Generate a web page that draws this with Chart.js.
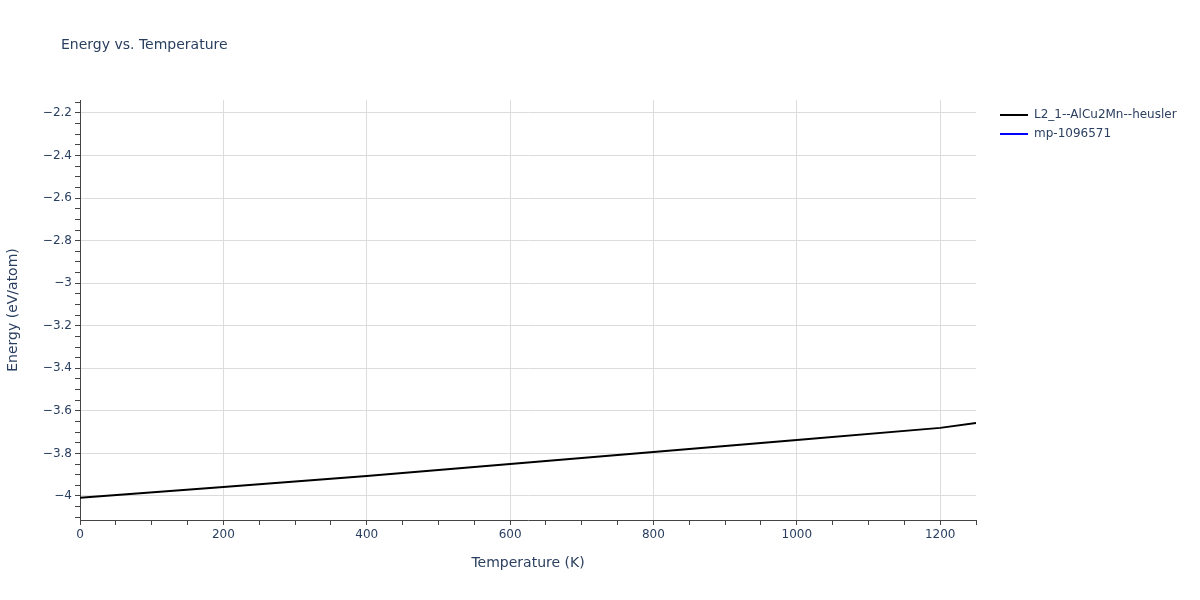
<!DOCTYPE html>
<html>
<head>
<meta charset="utf-8">
<script src="https://cdn.jsdelivr.net/npm/chart.js@4"></script>
<style>
  html, body { margin: 0; padding: 0; background: #fff; }
  #wrap { width: 1200px; height: 600px; position: relative; }
</style>
</head>
<body>
<div id="wrap"><canvas id="c" width="1200" height="600"></canvas></div>
<script>
// temperature (K) and energy (eV/atom)
const temps   = [0, 200, 400, 600, 800, 1000, 1200, 1250];
const eHeusler = [-4.009, -3.958, -3.906, -3.850, -3.793, -3.737, -3.680, -3.657];
const eMp      = []; // second series: not visible in the plotted range

const seriesNames  = ['L2_1--AlCu2Mn--heusler', 'mp-1096571'];
const seriesColors = ['#000000', '#0000ff'];

const TXT = '#2a3f5f';
const FONT = '"DejaVu Sans", Verdana, sans-serif';

const isMult = (v, s) => Math.abs(v / s - Math.round(v / s)) < 1e-6;
const minus = s => s.replace('-', '\u2212');

// title + legend, drawn like plotly puts them
const deco = {
  id: 'deco',
  afterDraw(chart) {
    const ctx = chart.ctx;
    ctx.save();
    ctx.fillStyle = TXT;
    ctx.textBaseline = 'middle';
    ctx.font = '14px ' + FONT;
    ctx.fillText('Energy vs. Temperature', 61, 45);
    ctx.font = '12px ' + FONT;
    seriesNames.forEach((name, i) => {
      const y = 115 + i * 19;
      ctx.strokeStyle = seriesColors[i];
      ctx.lineWidth = 2;
      ctx.beginPath();
      ctx.moveTo(1000, y);
      ctx.lineTo(1028, y);
      ctx.stroke();
      ctx.fillText(name, 1034, y);
    });
    ctx.restore();
  }
};

new Chart(document.getElementById('c'), {
  type: 'line',
  data: {
    datasets: [
      {
        label: seriesNames[0],
        data: temps.map((t, i) => ({ x: t, y: eHeusler[i] })),
        borderColor: seriesColors[0],
        borderWidth: 2,
        pointRadius: 0,
        tension: 0,
      },
      {
        label: seriesNames[1],
        data: eMp,
        borderColor: seriesColors[1],
        borderWidth: 2,
        pointRadius: 0,
      },
    ],
  },
  options: {
    responsive: false,
    animation: false,
    layout: { padding: { left: 0, right: 224, top: 100, bottom: 0 } },
    plugins: {
      legend: { display: false },
      title: { display: false },
      tooltip: { enabled: false },
    },
    scales: {
      x: {
        type: 'linear',
        min: 0,
        max: 1250,
        afterFit: s => { s.height = 80; },
        border: { color: '#444', width: 1 },
        grid: {
          color: c => (c.tick && isMult(c.tick.value, 200)) ? '#dcdcdc' : 'rgba(0,0,0,0)',
          tickColor: '#444',
          tickLength: 5,
        },
        ticks: {
          stepSize: 50,
          includeBounds: false,
          autoSkip: false,
          maxRotation: 0,
          color: TXT,
          font: { family: FONT, size: 12 },
          callback: v => isMult(v, 200) ? String(v) : '',
        },
        title: {
          display: true,
          text: 'Temperature (K)',
          color: TXT,
          font: { family: FONT, size: 14 },
          padding: { top: 0, bottom: 28 },
        },
      },
      y: {
        min: -4.113,
        max: -2.139,
        afterFit: s => { s.width = 80; },
        border: { color: '#444', width: 1 },
        grid: {
          color: c => (c.tick && isMult(c.tick.value, 0.2)) ? '#dcdcdc' : 'rgba(0,0,0,0)',
          tickColor: '#444',
          tickLength: 5,
        },
        ticks: {
          stepSize: 0.05,
          includeBounds: false,
          autoSkip: false,
          color: TXT,
          font: { family: FONT, size: 12 },
          callback: v => isMult(v, 0.2) ? minus(String(parseFloat(v.toFixed(2)))) : '',
        },
        title: {
          display: true,
          text: 'Energy (eV/atom)',
          color: TXT,
          font: { family: FONT, size: 14 },
          padding: { top: 5, bottom: 0 },
        },
      },
    },
  },
  plugins: [deco],
});
</script>
</body>
</html>
